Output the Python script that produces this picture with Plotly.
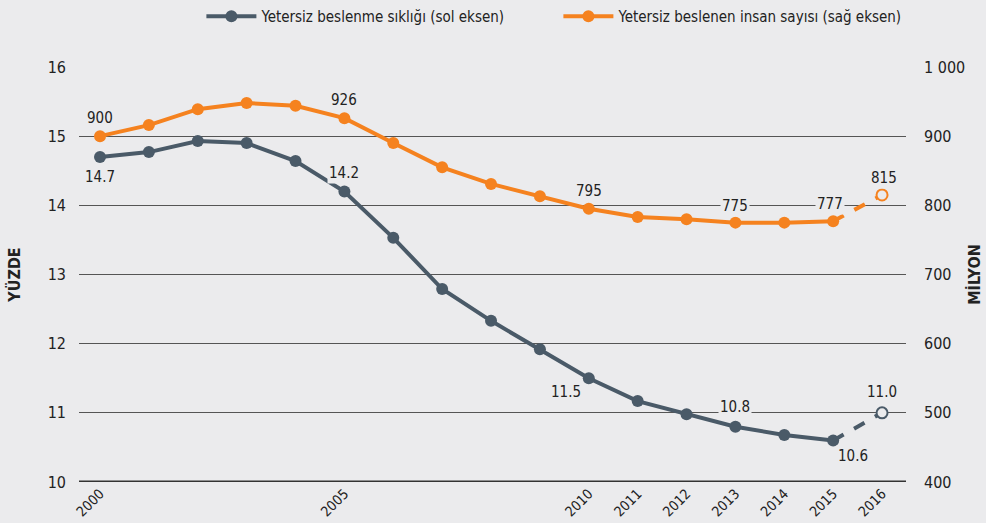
import plotly.graph_objects as go

years = list(range(2000, 2017))
prevalence = [14.7, 14.77, 14.93, 14.9, 14.64, 14.2, 13.53, 12.79, 12.33, 11.92, 11.5, 11.17, 10.98, 10.8, 10.68, 10.6, 11.0]
people = [900, 916, 939, 948, 944, 926, 890, 855, 831, 813, 795, 783, 780, 775, 775, 777, 815]
tick_years = [2000, 2005, 2010, 2011, 2012, 2013, 2014, 2015, 2016]
left_ticks = [10, 11, 12, 13, 14, 15, 16]
right_ticks = [400, 500, 600, 700, 800, 900, 1000]
right_tick_text = ["400", "500", "600", "700", "800", "900", "1 000"]

name_prev = "Yetersiz beslenme sıklığı (sol eksen)"
name_people = "Yetersiz beslenen insan sayısı (sağ eksen)"

GRAY = "#4A5A68"
ORANGE = "#F5821F"
BG = "#EBEBED"
FONT = "DejaVu Sans Condensed, Liberation Sans Narrow, Roboto, sans-serif"

fig = go.Figure()
fig.add_trace(go.Scatter(x=years[:-1], y=prevalence[:-1], mode="lines+markers", name=name_prev,
                         line=dict(color=GRAY, width=4), marker=dict(size=12, color=GRAY)))
fig.add_trace(go.Scatter(x=years[:-1], y=people[:-1], mode="lines+markers", name=name_people, yaxis="y2",
                         line=dict(color=ORANGE, width=4), marker=dict(size=12, color=ORANGE)))
fig.add_trace(go.Scatter(x=years[-2:], y=prevalence[-2:], mode="lines", showlegend=False,
                         line=dict(color=GRAY, width=4, dash="dash")))
fig.add_trace(go.Scatter(x=years[-1:], y=prevalence[-1:], mode="markers", showlegend=False,
                         marker=dict(size=11, color=BG, line=dict(color=GRAY, width=2))))
fig.add_trace(go.Scatter(x=years[-2:], y=people[-2:], mode="lines", showlegend=False, yaxis="y2",
                         line=dict(color=ORANGE, width=4, dash="dash")))
fig.add_trace(go.Scatter(x=years[-1:], y=people[-1:], mode="markers", showlegend=False, yaxis="y2",
                         marker=dict(size=11, color=BG, line=dict(color=ORANGE, width=2))))

def lbl(i, series, yref, text, xshift=0, yshift=0):
    fig.add_annotation(x=years[i], y=series[i], xref="x", yref=yref, text=text, showarrow=False,
                       xshift=xshift, yshift=yshift, bgcolor=BG, borderpad=1,
                       font=dict(family=FONT, size=15, color="#222"))

lbl(0, prevalence, "y", "14.7", 0, -20)
lbl(5, prevalence, "y", "14.2", 0, 19)
lbl(10, prevalence, "y", "11.5", -23, -14)
lbl(13, prevalence, "y", "10.8", 0, 20)
lbl(15, prevalence, "y", "10.6", 20, -15)
lbl(16, prevalence, "y", "11.0", 0, 21)
lbl(0, people, "y2", "900", 0, 18)
lbl(5, people, "y2", "926", 0, 18)
lbl(10, people, "y2", "795", 0, 18)
lbl(13, people, "y2", "775", 0, 17)
lbl(15, people, "y2", "777", -3, 17)
lbl(16, people, "y2", "815", 2, 17)

fig.update_layout(
    width=986, height=523,
    paper_bgcolor=BG, plot_bgcolor=BG,
    margin=dict(l=79, r=80, t=67, b=41, autoexpand=False),
    font=dict(family=FONT, size=15, color="#222"),
    showlegend=True,
    legend=dict(orientation="h", x=0.148, xanchor="left", y=1.0, yref="container", yanchor="top",
                font=dict(family=FONT, size=15, color="#222"), bgcolor="rgba(0,0,0,0)",
                itemwidth=50, entrywidth=292, entrywidthmode="pixels"),
    xaxis=dict(range=[1999.57, 2016.49], tickvals=tick_years, ticktext=[str(t) for t in tick_years],
               tickangle=-45, showgrid=False, zeroline=False, showline=False, ticks="",
               tickfont=dict(family=FONT, size=14)),
    yaxis=dict(range=[10, 16], tickvals=left_ticks, showgrid=True, gridcolor="#555", gridwidth=1,
               zeroline=False, showline=False, ticks="", tickfont=dict(family=FONT, size=16),
               ticklabelstandoff=12,
               title=dict(text="<b>YÜZDE</b>", font=dict(family=FONT, size=16), standoff=23)),
    yaxis2=dict(range=[400, 1000], tickvals=right_ticks, ticktext=right_tick_text, overlaying="y", side="right",
                showgrid=False, zeroline=False, showline=False, ticks="", tickfont=dict(family=FONT, size=16),
                ticklabelstandoff=17,
                title=dict(text="<b>MİLYON</b>", font=dict(family=FONT, size=16), standoff=4)),
    shapes=[dict(type="line", xref="paper", yref="y", x0=0, x1=1, y0=10, y1=10,
                 line=dict(color="#333", width=3), layer="below")],
)

fig.write_html("out.html", config={"displayModeBar": False})
with open("out.html", "r", encoding="utf-8") as f:
    html = f.read()
html = html.replace("<body>", '<body style="margin:0;padding:0;">', 1)
with open("out.html", "w", encoding="utf-8") as f:
    f.write(html)
